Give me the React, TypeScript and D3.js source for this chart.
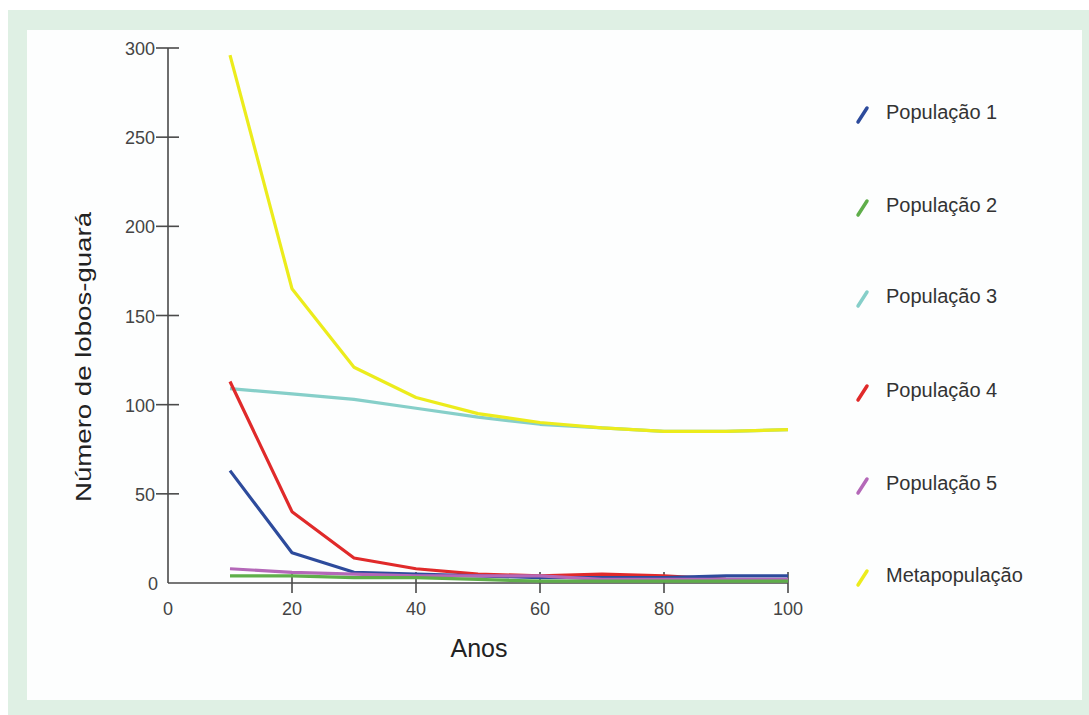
import React from "react";
import * as d3 from "d3";

const years = [10, 20, 30, 40, 50, 60, 70, 80, 90, 100];
const pop1 = [63, 17, 6, 5, 4, 3, 3, 3, 4, 4];
const pop2 = [4, 4, 3, 3, 2, 1, 1, 1, 1, 1];
const pop3 = [109, 106, 103, 98, 93, 89, 87, 85, 85, 86];
const pop4 = [113, 40, 14, 8, 5, 4, 5, 4, 2];
const pop5 = [8, 6, 5, 4, 4, 4, 2, 2, 2, 2];
const meta = [296, 165, 121, 104, 95, 90, 87, 85, 85, 86];

const seriesNames = ["População 1", "População 2", "População 3", "População 4", "População 5", "Metapopulação"];
const seriesColors = ["#2d4b9c", "#5fae4a", "#86cfc9", "#e02a2a", "#b468b8", "#ecec1c"];
const seriesValues = [pop1, pop2, pop3, pop4, pop5, meta];

const xTicks = [0, 20, 40, 60, 80, 100];
const yTicks = [0, 50, 100, 150, 200, 250, 300];

export default function App() {
  const x = d3.scaleLinear().domain([0, 100]).range([168, 788]);
  const y = d3.scaleLinear().domain([0, 300]).range([583, 48]);
  const line = d3
    .line<[number, number]>()
    .x((d) => x(d[0]))
    .y((d) => y(d[1]))
    .curve(d3.curveLinear);

  const legendBase = [119, 212, 303, 397, 490, 582];
  const drawOrder = [2, 5, 3, 0, 4, 1];

  return (
    <svg
      width={1089}
      height={715}
      style={{ position: "absolute", left: 0, top: 0, fontFamily: "Arial, 'Liberation Sans', sans-serif" }}
    >
      <rect x={0} y={0} width={1089} height={715} fill="#ffffff" />
      <rect x={8} y={10} width={1081} height={705} fill="#dff0e4" />
      <rect x={27} y={30} width={1055} height={670} fill="#fdfefe" />

      {/* axes */}
      <line x1={x(0)} x2={x(0)} y1={y(300)} y2={y(0)} stroke="#4a4a4a" strokeWidth={1.6} />
      <line x1={x(0)} x2={x(100)} y1={y(0)} y2={y(0)} stroke="#4a4a4a" strokeWidth={1.6} />
      {yTicks.map((t) => (
        <g key={"y" + t}>
          {t > 0 && (
            <line x1={x(0) - 12} x2={x(0) + 11} y1={y(t)} y2={y(t)} stroke="#4a4a4a" strokeWidth={1.6} />
          )}
          <text x={t > 0 ? x(0) - 13 : x(0) - 10} y={y(t) + 7} textAnchor="end" fontSize={18} fill="#444">
            {t}
          </text>
        </g>
      ))}
      {xTicks.map((t) => (
        <g key={"x" + t}>
          {t > 0 && (
            <line x1={x(t)} x2={x(t)} y1={y(0) - 11} y2={y(0) + 10} stroke="#4a4a4a" strokeWidth={1.6} />
          )}
          <text x={x(t)} y={615} textAnchor="middle" fontSize={18} fill="#444">
            {t}
          </text>
        </g>
      ))}

      {/* series */}
      {drawOrder.map((i) => {
        const vals = seriesValues[i];
        const pts = vals.map((v, k) => [years[k], v] as [number, number]);
        return (
          <path key={seriesNames[i]} d={line(pts) || ""} fill="none" stroke={seriesColors[i]} strokeWidth={3.2} strokeLinejoin="round" />
        );
      })}

      {/* axis titles */}
      <text x={479} y={657} textAnchor="middle" fontSize={25} fill="#222">
        Anos
      </text>
      <text
        transform="translate(91,357) rotate(-90)"
        textAnchor="middle"
        fontSize={22}
        fill="#222"
        textLength={290}
        lengthAdjust="spacingAndGlyphs"
      >
        Número de lobos-guará
      </text>

      {/* legend */}
      {seriesNames.map((n, i) => (
        <g key={"lg" + n}>
          <line
            x1={858}
            x2={867}
            y1={legendBase[i] + 3}
            y2={legendBase[i] - 11}
            stroke={seriesColors[i]}
            strokeWidth={3.5}
            strokeLinecap="round"
          />
          <text x={886} y={legendBase[i]} fontSize={20} fill="#333">
            {n}
          </text>
        </g>
      ))}
    </svg>
  );
}
